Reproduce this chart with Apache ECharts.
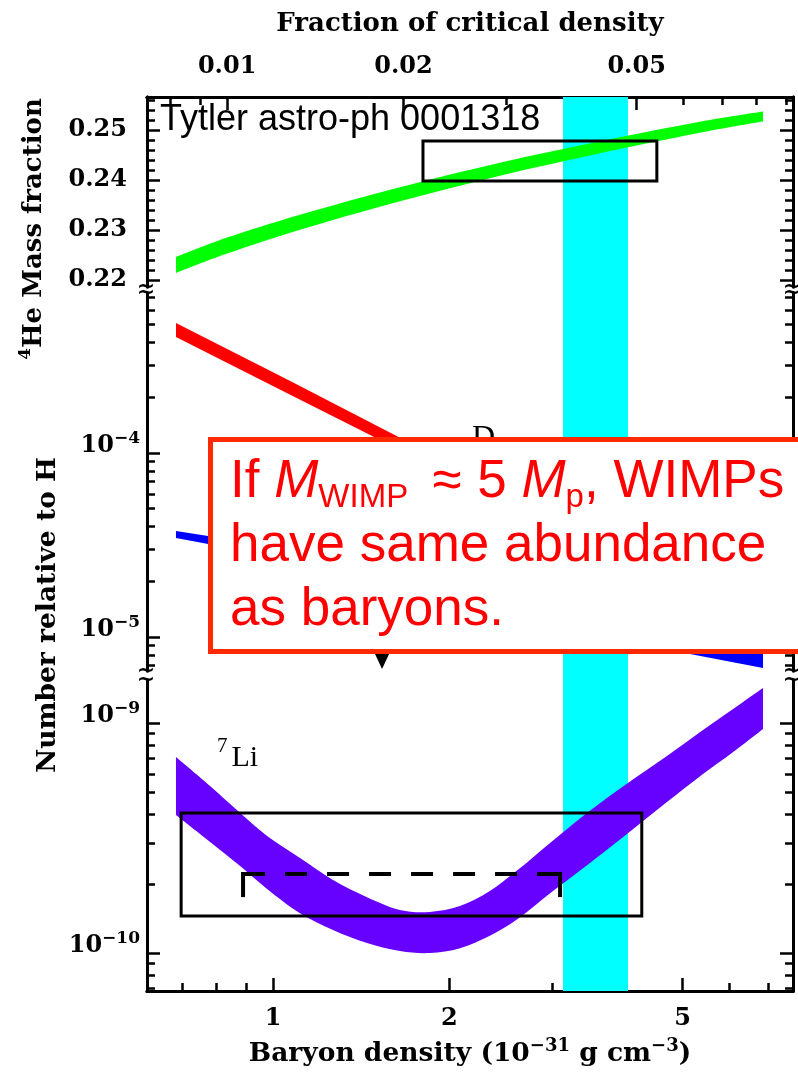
<!DOCTYPE html>
<html>
<head>
<meta charset="utf-8">
<title>BBN abundances</title>
<script src="https://cdn.jsdelivr.net/npm/echarts@6/dist/echarts.min.js"></script>
<style>
  html, body { margin: 0; padding: 0; background: #fff; }
  #chart { width: 798px; height: 1073px; }
</style>
</head>
<body>
<div id="chart"></div>
<script>
// x: baryon density (10^-31 g cm^-3), drawn on a log scale
const xRange = [0.6095, 7.718];
const xMajor = [1, 2, 5];
const xLabels = ['1', '2', '5'];
const xMinor = [0.7, 0.8, 0.9, 3, 4, 6, 7];

// top axis: fraction of critical density
const rhoPerFraction = 83.5;
const fracMajor = [0.01, 0.02, 0.05];
const fracLabels = ['0.01', '0.02', '0.05'];
const fracMinor = [0.008, 0.009, 0.03, 0.04, 0.06, 0.07, 0.08, 0.09];

// 4He mass fraction panel
const heRange = [0.2186, 0.2566];
const heMajor = [0.22, 0.23, 0.24, 0.25];
const heMinor = [0.222, 0.224, 0.226, 0.228, 0.232, 0.234, 0.236, 0.238,
                 0.242, 0.244, 0.246, 0.248, 0.252, 0.254, 0.256];
const heX    = [0.683, 0.835, 1.112, 1.647, 2.44, 3.614, 5.355, 6.86];
const heLow  = [0.2214, 0.22528, 0.23006, 0.23576, 0.24086, 0.24536, 0.24946, 0.2517];
const heHigh = [0.2246, 0.22848, 0.23306, 0.23856, 0.24346, 0.24776, 0.25166, 0.2537];
const heBoxX = [1.803, 4.52];
const heBoxY = [0.2398, 0.2478];

// D and 3He panel (number relative to H)
const midRange = [6.53e-6, 7.41e-4];
const midMajor = [1e-5, 1e-4];
const midMinor = [7e-6, 8e-6, 9e-6, 2e-5, 3e-5, 4e-5, 5e-5, 6e-5, 7e-5, 8e-5, 9e-5,
                  2e-4, 3e-4, 4e-4, 5e-4, 6e-4, 7e-4];
const dX    = [0.683, 1.07, 1.781];
const dLow  = [4.27e-4, 2.075e-4, 9.16e-5];
const dHigh = [5.09e-4, 2.46e-4, 1.065e-4];
const he3X    = [0.683, 0.775, 5.15, 6.86];
const he3Low  = [3.45e-5, 3.20e-5, 8.08e-6, 6.78e-6];
const he3High = [3.77e-5, 3.54e-5, 9.64e-6, 8.29e-6];
const limitPoint = [1.535, 7.41e-6];

// 7Li panel
const liRange = [6.84e-11, 1.538e-9];
const liMajor = [1e-10, 1e-9];
const liMinor = [7e-11, 8e-11, 9e-11, 2e-10, 3e-10, 4e-10, 5e-10, 6e-10, 7e-10, 8e-10, 9e-10];
const liX    = [0.683, 0.781, 0.879, 0.977, 1.112, 1.266, 1.447, 1.647, 1.853, 2.085,
                2.345, 2.619, 2.971, 3.435, 4.034, 4.703, 5.39, 6.10, 6.86];
const liHigh = [7.11e-10, 5.32e-10, 4.06e-10, 3.23e-10, 2.59e-10, 2.08e-10, 1.75e-10, 1.54e-10,
                1.51e-10, 1.60e-10, 1.86e-10, 2.30e-10, 3.01e-10, 4.06e-10, 5.48e-10, 7.19e-10,
                9.23e-10, 1.151e-9, 1.420e-9];
const liLow  = [3.98e-10, 3.04e-10, 2.39e-10, 1.90e-10, 1.49e-10, 1.26e-10, 1.105e-10, 1.02e-10,
                1.00e-10, 1.05e-10, 1.19e-10, 1.41e-10, 1.82e-10, 2.41e-10, 3.32e-10, 4.53e-10,
                5.94e-10, 7.48e-10, 9.42e-10];
const liBoxX = [0.697, 4.26];
const liBoxY = [1.449e-10, 4.06e-10];
const liDashX = [0.889, 3.09];
const liDashY = [2.206e-10, 1.751e-10]; // dashed level, end ticks down to

// observed baryon density band
const obsX = [3.126, 4.035];

const L = Math.log10;
const same = v => v;
const FRAME = { left: 147, width: 646 };
const PANELS = [[97, 190], [293, 378], [680, 311]]; // top, height
const BLACK = '#000';
const SERIF = 'DejaVu Serif';

const chart = echarts.init(document.getElementById('chart'));

const grids = PANELS.map(p => ({ left: FRAME.left, width: FRAME.width, top: p[0], height: p[1], outerBoundsMode: 'none' }));
grids.push({ left: FRAME.left, width: FRAME.width, top: PANELS[0][0],
  height: PANELS[2][0] + PANELS[2][1] - PANELS[0][0], outerBoundsMode: 'none' });

function frameAxis(gridIndex, position, range, ticks, long, label) {
  return {
    type: 'value', gridIndex, position, min: range[0], max: range[1],
    splitLine: { show: false },
    axisLine: { show: true, onZero: false, lineStyle: { color: BLACK, width: 3 } },
    axisTick: { show: true, inside: true, customValues: ticks, length: long ? 13 : 8,
                lineStyle: { color: BLACK, width: 2.5 } },
    axisLabel: label ? Object.assign({ show: true, customValues: ticks }, label) : { show: false }
  };
}
const hidden = (gridIndex, range) => ({ type: 'value', gridIndex, min: range[0], max: range[1], show: false });

const labelFont = { fontFamily: SERIF, fontWeight: 'bold', fontSize: 24, color: BLACK };
const expLabel = {
  margin: 7, verticalAlign: 'middle', padding: [0, 0, 15, 0],
  formatter: v => '{b|10}{s|\u2212' + Math.round(-v) + '}',
  rich: {
    b: Object.assign({ lineHeight: 30 }, labelFont),
    s: Object.assign({}, labelFont, { fontSize: 17, lineHeight: 10, verticalAlign: 'top' })
  }
};
const heLabel = Object.assign({ margin: 20, formatter: v => v.toFixed(2) }, labelFont);

function panelAxes(g, range, major, minor, label) {
  return [
    frameAxis(g, 'left', range, major, true, label),
    frameAxis(g, 'left', range, minor, false),
    frameAxis(g, 'right', range, major, true),
    frameAxis(g, 'right', range, minor, false)
  ];
}

const xLog = xRange.map(L);
const fracLog = xRange.map(v => L(v / rhoPerFraction));

const topMajor = frameAxis(0, 'top', fracLog, fracMajor.map(L), true,
  Object.assign({ margin: 17, lineHeight: 26, verticalAlign: 'bottom',
    formatter: v => fracLabels[fracMajor.findIndex(f => Math.abs(L(f) - v) < 1e-6)] }, labelFont));
topMajor.name = 'Fraction of critical density';
topMajor.nameLocation = 'middle';
topMajor.nameGap = 58;
topMajor.nameTextStyle = { fontFamily: SERIF, fontWeight: 'bold', fontSize: 26, lineHeight: 30, color: BLACK };

const bottomMajor = frameAxis(2, 'bottom', xLog, xMajor.map(L), true,
  Object.assign({ margin: 15, lineHeight: 26, verticalAlign: 'top',
    formatter: v => xLabels[xMajor.findIndex(x => Math.abs(L(x) - v) < 1e-6)] }, labelFont));
bottomMajor.name = '{b|Baryon density (10}{s|\u221231}{b| g cm}{s|\u22123}{b|)}';
bottomMajor.nameLocation = 'middle';
bottomMajor.nameGap = 46;
bottomMajor.nameTextStyle = {
  rich: {
    b: { fontFamily: SERIF, fontWeight: 'bold', fontSize: 26.5, lineHeight: 34, color: BLACK },
    s: { fontFamily: SERIF, fontWeight: 'bold', fontSize: 18, lineHeight: 12, verticalAlign: 'top', color: BLACK }
  }
};

const xAxes = [
  hidden(0, xLog),
  topMajor,
  frameAxis(0, 'top', fracLog, fracMinor.map(L), false),
  hidden(1, xLog),
  bottomMajor,
  frameAxis(2, 'bottom', xLog, xMinor.map(L), false),
  hidden(3, xLog)
];

const yAxes = [].concat(
  panelAxes(0, heRange, heMajor, heMinor, heLabel),
  panelAxes(1, midRange.map(L), midMajor.map(L), midMinor.map(L), expLabel),
  panelAxes(2, liRange.map(L), liMajor.map(L), liMinor.map(L), expLabel),
  [hidden(3, [0, 1])]
);

// smooth (Catmull-Rom) or straight path through already-projected pixel points
function curvePath(p, start, smooth) {
  let d = (start ? 'M' : 'L') + p[0][0] + ' ' + p[0][1];
  for (let i = 0; i < p.length - 1; i++) {
    const a = p[Math.max(i - 1, 0)], b = p[i], c = p[i + 1], e = p[Math.min(i + 2, p.length - 1)];
    if (!smooth) { d += ' L' + c[0] + ' ' + c[1]; continue; }
    const c1 = [b[0] + (c[0] - a[0]) / 6, b[1] + (c[1] - a[1]) / 6];
    const c2 = [c[0] - (e[0] - b[0]) / 6, c[1] - (e[1] - b[1]) / 6];
    d += ' C' + c1[0] + ' ' + c1[1] + ' ' + c2[0] + ' ' + c2[1] + ' ' + c[0] + ' ' + c[1];
  }
  return d;
}

function band(xs, lo, hi, color, xi, yi, toY, smooth) {
  const pts = xs.map((x, i) => [L(x), toY(lo[i]), toY(hi[i])]);
  return {
    type: 'custom', xAxisIndex: xi, yAxisIndex: yi, z: 3, silent: true,
    data: pts, encode: { x: 0, y: [1, 2] },
    renderItem: (params, api) => {
      if (params.dataIndex !== 0) return null;
      const top = pts.map(p => api.coord([p[0], p[2]]));
      const bot = pts.map(p => api.coord([p[0], p[1]])).reverse();
      return { type: 'path',
               shape: { pathData: curvePath(top, true, smooth) + ' ' + curvePath(bot, false, smooth) + ' Z' },
               style: { fill: color } };
    }
  };
}

function boxSeries(bx, by, xi, yi, toY) {
  return {
    type: 'custom', xAxisIndex: xi, yAxisIndex: yi, z: 5, silent: true,
    data: [[L(bx[0]), toY(by[0]), L(bx[1]), toY(by[1])]], encode: { x: [0, 2], y: [1, 3] },
    renderItem: (params, api) => {
      const a = api.coord([api.value(0), api.value(1)]);
      const b = api.coord([api.value(2), api.value(3)]);
      return {
        type: 'rect',
        shape: { x: Math.min(a[0], b[0]), y: Math.min(a[1], b[1]),
                 width: Math.abs(b[0] - a[0]), height: Math.abs(b[1] - a[1]) },
        style: { fill: 'none', stroke: BLACK, lineWidth: 3 }
      };
    }
  };
}

const series = [
  {
    type: 'custom', xAxisIndex: 6, yAxisIndex: 12, z: 1, silent: true,
    data: [[L(obsX[0]), L(obsX[1])]], encode: { x: [0, 1] },
    renderItem: (params, api) => {
      const a = api.coord([api.value(0), 1]);
      const b = api.coord([api.value(1), 0]);
      return { type: 'rect', shape: { x: a[0], y: a[1], width: b[0] - a[0], height: b[1] - a[1] },
               style: { fill: '#00ffff' } };
    }
  },
  band(heX, heLow, heHigh, '#00ff00', 0, 0, same, true),
  boxSeries(heBoxX, heBoxY, 0, 0, same),
  band(dX, dLow, dHigh, '#ff0000', 3, 4, L, false),
  band(he3X, he3Low, he3High, '#0000ff', 3, 4, L, false),
  {
    type: 'scatter', xAxisIndex: 3, yAxisIndex: 4, z: 4, silent: true,
    data: [[L(limitPoint[0]), L(limitPoint[1])]],
    symbol: 'triangle', symbolRotate: 180, symbolSize: [15, 16],
    itemStyle: { color: BLACK, opacity: 1 }
  },
  band(liX, liLow, liHigh, '#6600ff', 4, 8, L, true),
  boxSeries(liBoxX, liBoxY, 4, 8, L),
  {
    type: 'custom', xAxisIndex: 4, yAxisIndex: 8, z: 5, silent: true,
    data: [[L(liDashX[0]), L(liDashY[0]), L(liDashX[1]), L(liDashY[1])]], encode: { x: [0, 2], y: [1, 3] },
    renderItem: (params, api) => {
      const a = api.coord([api.value(0), api.value(1)]);
      const b = api.coord([api.value(2), api.value(1)]);
      const ta = api.coord([api.value(0), api.value(3)]);
      const tb = api.coord([api.value(2), api.value(3)]);
      const solid = { stroke: BLACK, lineWidth: 4, fill: 'none' };
      return {
        type: 'group',
        children: [
          { type: 'line', shape: { x1: a[0], y1: a[1], x2: b[0], y2: b[1] },
            style: { stroke: BLACK, lineWidth: 4, lineDash: [22, 20], fill: 'none' } },
          { type: 'line', shape: { x1: ta[0], y1: ta[1], x2: a[0], y2: a[1] - 2 }, style: solid },
          { type: 'line', shape: { x1: tb[0], y1: tb[1], x2: b[0], y2: b[1] - 2 }, style: solid }
        ]
      };
    }
  }
];

// axis break marks
const breaks = [];
[PANELS[0][0] + PANELS[0][1], PANELS[1][0], PANELS[1][0] + PANELS[1][1], PANELS[2][0]].forEach(y => {
  [FRAME.left, FRAME.left + FRAME.width].forEach(x => {
    breaks.push({
      type: 'text', x: x - 1, y, z: 50,
      style: { text: '~', fontFamily: 'DejaVu Sans', fontWeight: 'bold', fontSize: 22,
               fill: BLACK, align: 'center', verticalAlign: 'middle' }
    });
  });
});

const red = '#ff0000';
const sans = 'Liberation Sans';
const graphic = breaks.concat([
  {
    type: 'text', x: 34, y: 229, rotation: Math.PI / 2,
    style: {
      text: '{s|4}{b|He Mass fraction}', align: 'center', verticalAlign: 'middle',
      rich: {
        b: { fontFamily: SERIF, fontWeight: 'bold', fontSize: 26, lineHeight: 34, fill: BLACK },
        s: { fontFamily: SERIF, fontWeight: 'bold', fontSize: 17, lineHeight: 12, verticalAlign: 'top', fill: BLACK }
      }
    }
  },
  {
    type: 'text', x: 48, y: 615, rotation: Math.PI / 2,
    style: { text: 'Number relative to H', align: 'center', verticalAlign: 'middle',
             fontFamily: SERIF, fontWeight: 'bold', fontSize: 26.5, fill: BLACK }
  },
  {
    type: 'text', x: 160, y: 120, z: 20,
    style: { text: 'Tytler astro-ph 0001318', fontFamily: sans, fontSize: 36,
             fill: BLACK, align: 'left', verticalAlign: 'middle' }
  },
  {
    type: 'text', x: 472, y: 439, z: 10,
    style: { text: 'D', fontFamily: 'Liberation Serif', fontSize: 32, fill: BLACK,
             align: 'left', verticalAlign: 'middle' }
  },
  {
    type: 'text', x: 217, y: 736, z: 10,
    style: {
      text: '{s|7}{b|Li}', align: 'left', verticalAlign: 'top',
      rich: {
        b: { fontFamily: 'Liberation Serif', fontSize: 30, lineHeight: 44, fill: BLACK },
        s: { fontFamily: 'Liberation Serif', fontSize: 21, lineHeight: 14, verticalAlign: 'top',
             padding: [0, 4, 0, 0], fill: BLACK }
      }
    }
  },
  {
    type: 'rect', z: 100,
    shape: { x: 210.5, y: 439.5, width: 620, height: 212 },
    style: { fill: '#fff', stroke: '#ff2a00', lineWidth: 5 }
  },
  {
    type: 'text', x: 230, y: 450, z: 101,
    style: {
      text: '{n|If }{i|M}{sub|WIMP}{ap|\u2248}{n|5 }{i|M}{sub|p}{n|, WIMPs}\n{n|have same abundance}\n{n|as baryons.}',
      align: 'left', verticalAlign: 'top',
      rich: {
        n: { fontFamily: sans, fontSize: 53, lineHeight: 64, fill: red },
        ap: { fontFamily: sans, fontSize: 53, lineHeight: 64, fill: red, padding: [0, 16, 0, 24] },
        i: { fontFamily: sans, fontStyle: 'italic', fontSize: 53, lineHeight: 64, fill: red },
        sub: { fontFamily: sans, fontSize: 33, lineHeight: 32, verticalAlign: 'bottom', fill: red }
      }
    }
  }
]);

chart.setOption({
  animation: false,
  backgroundColor: '#fff',
  grid: grids,
  xAxis: xAxes,
  yAxis: yAxes,
  series,
  graphic
});
</script>
</body>
</html>
